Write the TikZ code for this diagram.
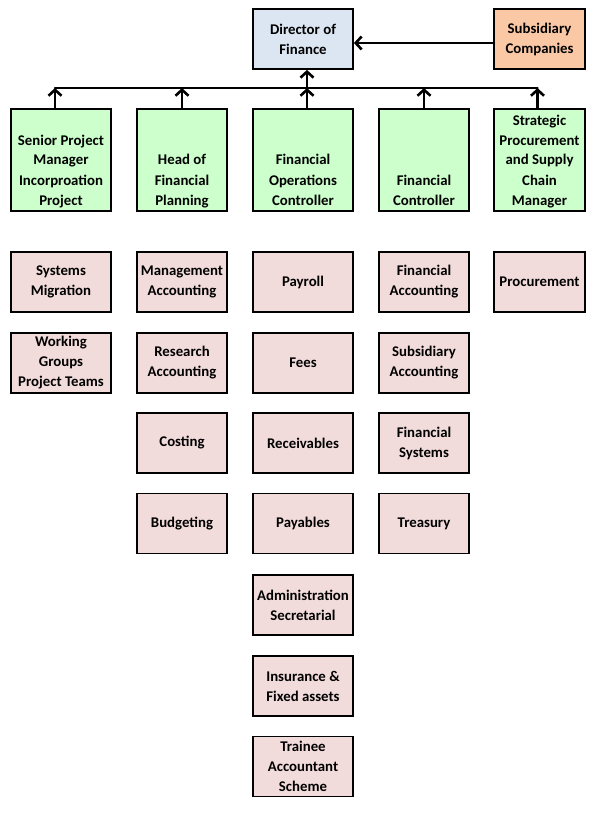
\documentclass[tikz,border=0pt]{standalone}
\usepackage{fontspec}
\setmainfont{Carlito}
\usetikzlibrary{arrows.meta}
\definecolor{dirblue}{HTML}{DCE6F2}
\definecolor{subsorange}{HTML}{FAC8A4}
\definecolor{headgreen}{HTML}{CCFFCC}
\definecolor{unitpink}{HTML}{F2DCDB}

\begin{document}
\begin{tikzpicture}[x=1pt, y=-1pt,
    box/.style={draw, line width=1.8pt, align=center, inner sep=0pt,
      font=\bfseries\fontsize{14.8}{20}\selectfont, minimum height=60pt},
    head/.style={box, fill=headgreen, text height=96pt, text depth=6pt},
    unit/.style={box, fill=unitpink},
    link/.style={line width=2.6pt, line cap=round},
    uparrow/.style={link, -{Straight Barb[length=6pt, width=13pt]}}]
      \useasboundingbox (0,0) rectangle (597,813);

      % top level
      \node [box, fill=dirblue, minimum width=100pt]    (dof) at (303,39)   {Director of\\Finance};
      \node [box, fill=subsorange, minimum width=91pt]  (sub) at (539.5,39) {Subsidiary\\Companies};
      \draw [uparrow] (sub.west |- 0,43) to (dof.east |- 0,43);

      % heads of section
      \node [head, minimum width=100pt] (spm) at (61,160)    {Senior Project\\Manager\\Incorproation\\Project};
      \node [head, minimum width=90pt]  (hfp) at (182,160)   {Head of\\Financial\\Planning};
      \node [head, minimum width=100pt] (foc) at (303,160)   {Financial\\Operations\\Controller};
      \node [head, minimum width=90pt]  (fc)  at (424,160)   {Financial\\Controller};
      \node [head, minimum width=91pt]  (scm) at (539.5,160) {Strategic\\Procurement\\and Supply\\Chain\\Manager};

      \coordinate (bus) at (0,88);
      \coordinate (spmtop) at ([xshift=-6pt]spm.north);
      \coordinate (foctop) at ([xshift=4pt]foc.north);
      \coordinate (scmtop) at ([xshift=-2pt]scm.north);
      \draw [link] (spmtop |- bus) to (scmtop |- bus);
      \draw [uparrow] (spmtop) to (spmtop |- bus);
      \draw [uparrow] (hfp.north) to (hfp.north |- bus);
      \draw [uparrow] (foctop) to (foctop |- bus);
      \draw [uparrow] (fc.north)  to (fc.north |- bus);
      \draw [uparrow] (scmtop) to (scmtop |- bus);
      \draw [uparrow] (foctop |- bus) to (foctop |- dof.south);

      % units under senior project manager
      \node [unit, minimum width=100pt] (sysm) at (61,282) {Systems\\Migration};
      \node [unit, minimum width=100pt] (wgpt) at (61,363) {Working\\Groups\\Project Teams};

      % units under head of financial planning
      \node [unit, minimum width=90pt] (mgta) at (182,282)   {Management\\Accounting};
      \node [unit, minimum width=90pt] (resa) at (182,363)   {Research\\Accounting};
      \node [unit, minimum width=90pt] (cost) at (182,443)   {Costing};
      \node [unit, minimum width=90pt] (budg) at (182,523.5) {Budgeting};

      % units under financial operations controller
      \node [unit, minimum width=100pt] (payr) at (303,282)   {Payroll};
      \node [unit, minimum width=100pt] (fees) at (303,363)   {Fees};
      \node [unit, minimum width=100pt] (recv) at (303,443)   {Receivables};
      \node [unit, minimum width=100pt] (payb) at (303,523.5) {Payables};
      \node [unit, minimum width=100pt] (adms) at (303,605)   {Administration\\Secretarial};
      \node [unit, minimum width=100pt] (insf) at (303,686)   {Insurance \&\\Fixed assets};
      \node [unit, minimum width=100pt] (tras) at (303,766.5) {Trainee\\Accountant\\Scheme};

      % units under financial controller
      \node [unit, minimum width=90pt] (fina) at (424,282)   {Financial\\Accounting};
      \node [unit, minimum width=90pt] (suba) at (424,363)   {Subsidiary\\Accounting};
      \node [unit, minimum width=90pt] (fins) at (424,443)   {Financial\\Systems};
      \node [unit, minimum width=90pt] (trea) at (424,523.5) {Treasury};

      % units under strategic procurement
      \node [unit, minimum width=91pt] (proc) at (539.5,282) {Procurement};
    \end{tikzpicture}
\end{document}
